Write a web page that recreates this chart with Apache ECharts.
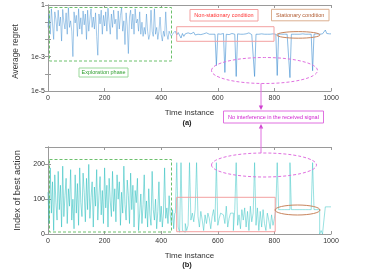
<!DOCTYPE html>
<html><head><meta charset="utf-8">
<script src="https://cdn.jsdelivr.net/npm/echarts@6/dist/echarts.min.js"></script>
<style>html,body{margin:0;padding:0;background:#fff}#c{width:366px;height:273px}</style>
</head><body><div id="c"></div><script>
// ---------- data ----------
const timeTicks = [0, 200, 400, 600, 800, 1000];
const regretTickLabels = { '0': '1', '-3': '1e-3', '-5': '1e-5' };
const actionTicks = [0, 100, 200];
const exploreStart = 0, exploreStep = 4;      // exploration phase samples: t = 0,4,...,448
const postStart = 450, postStep = 5;          // after exploration: t = 450,455,...,1000

const regretExplore = [
  0.05,0.3,0.02,0.6,0.08,0.01,0.4,0.15,0.03,0.5,
  0.06,0.2,0.008,0.55,0.1,0.04,0.35,0.02,0.7,0.05,
  0.12,0.03,0.001,0.4,0.09,0.25,0.015,0.6,0.04,0.18,
  0.02,0.45,0.07,0.3,0.01,0.5,0.03,0.15,0.6,0.05,
  0.2,0.04,0.35,0.015,0.0012,0.3,0.08,0.5,0.02,0.25,
  0.06,0.4,0.03,0.65,0.1,0.02,0.3,0.05,0.5,0.08,
  0.15,0.01,0.45,0.04,0.25,0.7,0.03,0.12,0.005,0.35,
  0.06,0.0015,0.2,0.5,0.04,0.3,0.02,0.6,0.09,0.15,
  0.03,0.4,0.02,0.1,0.015,0.05,0.02,0.3,0.03,0.01,
  0.02,0.5,0.03,0.015,0.6,0.02,0.05,0.01,0.03,0.2,
  0.02,0.008,0.03,0.015,0.4,0.02,0.01,0.03,0.02,0.015,
  0.02,0.025,0.03
];
const regretPost = [
  0.03,0.018,0.025,0.02,0.012,0.022,0.015,0.021,0.02,0.024,
  0.019,0.021,0.02,0.026,0.018,0.021,0.02,0.022,0.019,0.02,
  0.021,0.02,0.024,0.019,0.02,0.021,0.02,0.022,0.02,0.0003,
  0.021,0.025,0.02,0.019,0.022,0.00012,0.02,0.021,0.019,0.02,
  0.022,0.02,0.02,0.00007,0.021,0.017,0.02,0.022,0.02,0.019,
  0.021,0.02,0.024,0.02,0.019,0.021,0.00007,0.02,0.022,0.02,
  0.019,0.021,0.02,0.02,0.022,0.02,0.021,0.02,0.02,0.021,
  0.02,0.02,0.00008,0.021,0.02,0.02,0.021,0.02,0.02,0.02,
  0.021,0.00006,0.02,0.02,0.02,0.021,0.02,0.02,0.02,0.02,
  0.021,0.02,0.02,0.02,0.02,0.021,0.02,0.00015,0.02,0.02,
  0.021,0.02,0.02,0.02,0.021,0.02,0.035,0.022,0.021,0.021,
  0.021
];
const actionExplore = [
  120,30,190,60,150,10,170,90,40,180,
  70,140,20,195,50,110,160,30,130,80,
  185,40,100,15,170,60,145,25,190,90,
  50,175,120,35,160,70,200,45,105,150,
  20,135,80,185,40,110,165,55,125,30,
  190,75,140,20,160,95,50,180,65,130,
  35,170,100,150,25,120,60,195,85,40,
  155,110,30,175,70,140,20,125,90,160,
  10,60,115,30,85,170,45,95,20,130,
  55,25,180,70,40,100,15,65,150,35,
  80,20,60,190,45,75,30,110,55,25,
  70,15,60
];
const actionPost = [
  60,205,20,5,205,10,5,30,10,25,
  205,40,60,35,70,205,50,20,65,40,
  10,55,30,60,45,15,50,70,35,205,
  25,45,60,55,55,30,80,20,45,60,
  60,10,70,205,25,55,15,70,40,75,
  20,65,10,80,35,60,205,25,75,10,
  65,20,70,30,10,60,40,15,55,25,
  45,70,205,70,70,70,70,70,70,70,
  70,205,70,70,70,70,70,70,70,70,
  70,70,70,70,70,70,70,205,70,70,
  70,70,0,10,0,40,78,78,78,78,
  78
];

// ---------- chart ----------
const FONT = "'Liberation Sans', Arial, sans-serif";
const pairs = (start, step, vals) => vals.map((v, i) => [start + i * step, v]);
const G1 = { left: 48, top: 5, width: 283, height: 86 };
const G2 = { left: 48, top: 147, width: 283, height: 87 };
const axisCol = '#9a9a9a', txtCol = '#333';

function xAx(gi, pos, show) {
  return {
    type: 'value', gridIndex: gi, position: pos, min: 0, max: 1000, interval: 200,
    name: show ? 'Time instance' : '', nameLocation: 'middle', nameGap: 17.5,
    nameTextStyle: { fontFamily: FONT, fontSize: 8, color: txtCol },
    axisLine: { show: true, onZero: false, lineStyle: { color: axisCol, width: 1 } },
    axisTick: { show: true, inside: true, length: 3, lineStyle: { color: axisCol } },
    axisLabel: { show: show, fontFamily: FONT, fontSize: 7, color: txtCol, margin: 4,
      formatter: v => timeTicks.includes(v) ? String(v) : '' },
    splitLine: { show: false }
  };
}
function logLabel(v) {
  const l = Math.log10(v), e = Math.round(l);
  if (Math.abs(l - e) > 1e-6) return '';
  const s = regretTickLabels[String(e)];
  return s ? s : '';
}
const option = {
  animation: false,
  backgroundColor: '#fff',
  grid: [G1, G2],
  xAxis: [xAx(0, 'bottom', true), xAx(0, 'top', false), xAx(1, 'bottom', true), xAx(1, 'top', false)],
  yAxis: [
    { type: 'log', gridIndex: 0, position: 'left', min: 1e-5, max: 1, logBase: 10,
      name: 'Average regret', nameLocation: 'middle', nameGap: 19,
      nameTextStyle: { fontFamily: FONT, fontSize: 8.3, color: txtCol, padding: [0, 7, 0, 0] },
      axisLine: { show: true, lineStyle: { color: axisCol } },
      axisTick: { show: true, inside: true, length: 3, lineStyle: { color: axisCol } },
      axisLabel: { fontFamily: FONT, fontSize: 7, color: txtCol, margin: 3, formatter: logLabel },
      splitLine: { show: false } },
    { type: 'log', gridIndex: 0, position: 'right', min: 1e-5, max: 1, logBase: 10,
      axisLine: { show: true, lineStyle: { color: axisCol } },
      axisTick: { show: true, inside: true, length: 3, lineStyle: { color: axisCol } },
      axisLabel: { show: false }, splitLine: { show: false } },
    { type: 'value', gridIndex: 1, position: 'left', min: 0, max: 250, interval: 100,
      name: 'Index of best action', nameLocation: 'middle', nameGap: 15,
      nameTextStyle: { fontFamily: FONT, fontSize: 9.3, color: txtCol },
      axisLine: { show: true, lineStyle: { color: axisCol } },
      axisTick: { show: true, inside: true, length: 3, lineStyle: { color: axisCol } },
      axisLabel: { fontFamily: FONT, fontSize: 7, color: txtCol, margin: 3,
        formatter: v => actionTicks.includes(v) ? String(v) : '' },
      splitLine: { show: false } },
    { type: 'value', gridIndex: 1, position: 'right', min: 0, max: 250, interval: 100,
      axisLine: { show: true, lineStyle: { color: axisCol } },
      axisTick: { show: true, inside: true, length: 3, lineStyle: { color: axisCol } },
      axisLabel: { show: false }, splitLine: { show: false } }
  ],
  series: [
    { type: 'line', xAxisIndex: 0, yAxisIndex: 0, showSymbol: false, symbol: 'none',
      data: pairs(exploreStart, exploreStep, regretExplore),
      lineStyle: { color: '#3a8ad0', width: 0.6, opacity: 0.75 } },
    { type: 'line', xAxisIndex: 0, yAxisIndex: 0, showSymbol: false, symbol: 'none',
      data: pairs(postStart, postStep, regretPost),
      lineStyle: { color: '#3a8ad0', width: 0.7, opacity: 0.85 } },
    { type: 'line', xAxisIndex: 2, yAxisIndex: 2, showSymbol: false, symbol: 'none',
      data: pairs(exploreStart, exploreStep, actionExplore),
      lineStyle: { color: '#22bcbc', width: 0.7, opacity: 0.75 } },
    { type: 'line', xAxisIndex: 2, yAxisIndex: 2, showSymbol: false, symbol: 'none', step: 'end',
      data: pairs(postStart, postStep, actionPost),
      lineStyle: { color: '#3cc6c6', width: 0.7, opacity: 0.75 } }
  ],
  graphic: []
};

// ---------- annotations ----------
const Z = 100;
const rect = (x, y, w, h, stroke, dash, fill) => ({ type: 'rect', z: Z, silent: true,
  shape: { x, y, width: w, height: h },
  style: { fill: fill || 'none', stroke, lineWidth: 1, lineDash: dash || null } });
const ell = (cx, cy, rx, ry, stroke, dash) => ({ type: 'ellipse', z: Z, silent: true,
  shape: { cx, cy, rx, ry }, style: { fill: 'none', stroke, lineWidth: 1, lineDash: dash || null } });
const label = (x, y, text, color, size, bold) => ({ type: 'text', z: Z + 1, silent: true, x, y,
  style: { text, fill: color, font: (bold ? 'bold ' : '') + size + 'px ' + FONT, align: 'center', verticalAlign: 'middle' } });
const line = (x1, y1, x2, y2, stroke) => ({ type: 'line', z: Z, silent: true,
  shape: { x1, y1, x2, y2 }, style: { stroke, lineWidth: 1 } });
const tri = (pts, fill) => ({ type: 'polygon', z: Z, silent: true, shape: { points: pts }, style: { fill } });

const green = '#6cc06c', red = '#f3a0a0', brown = '#c8845c', mag = '#e070e0';
option.graphic = [
  // panel (a)
  rect(49.5, 7.5, 122, 53.5, green, [3, 2]),
  rect(79, 68, 49, 9, '#9ad89a', null, '#fff'),
  label(103.5, 72.7, 'Exploration phase', '#2f9f2f', 5.5),
  rect(190, 9.5, 68, 11.5, red, null, '#fff'),
  label(224, 15.4, 'Non-stationary condition', '#ff3030', 5.5),
  rect(176.7, 26.7, 97.3, 14.6, red),
  rect(271.5, 9.3, 57.5, 11.5, '#dcb090', null, '#fff'),
  label(300.2, 15.2, 'Stationary condition', '#b05a30', 5.5),
  ell(298.3, 34.9, 21.7, 3.3, brown),
  ell(264.5, 70.5, 53, 13, mag, [3, 2]),
  line(261, 83.5, 261, 107, mag),
  tri([[258.8, 105.5], [263.2, 105.5], [261, 110]], '#d040d0'),
  rect(223.5, 111, 100, 12, mag, null, '#fff'),
  label(273.5, 117.2, 'No interference in the received signal', '#d020d0', 5.5),
  tri([[258.8, 128.5], [263.2, 128.5], [261, 124]], '#d040d0'),
  line(261, 127, 261, 153, mag),
  label(187, 122.7, '(a)', '#222', 7.5, true),
  // panel (b)
  rect(49.5, 159.5, 122, 72.5, green, [3, 2]),
  rect(176.7, 197.3, 98.5, 34.4, red),
  ell(297.5, 210, 22.5, 5, brown),
  ell(264, 165, 52.5, 12, mag, [3, 2]),
  label(187, 265, '(b)', '#222', 7.5, true)
];

const chart = echarts.init(document.getElementById('c'), null, { renderer: 'canvas' });
chart.setOption(option);
</script></body></html>
